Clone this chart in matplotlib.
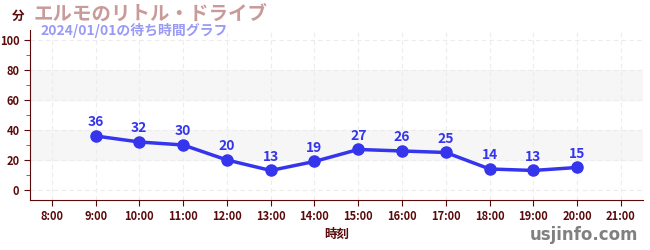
import matplotlib
matplotlib.use("Agg")
import matplotlib.pyplot as plt
from matplotlib.ticker import MultipleLocator

plt.rcParams['font.family'] = ['Noto Sans CJK JP', 'DejaVu Sans']

hours = [9, 10, 11, 12, 13, 14, 15, 16, 17, 18, 19, 20]
waits = [36, 32, 30, 20, 13, 19, 27, 26, 25, 14, 13, 15]
tick_hours = list(range(8, 22))
tick_labels = [f"{h}:00" for h in tick_hours]

dark = '#5a0a0a'
blue = '#3535ee'

fig = plt.figure(figsize=(6.5, 2.5), dpi=100)
ax = fig.add_axes([0.046, 0.2, 0.943, 0.68])

ax.set_xlim(7.5, 21.5)
ax.set_ylim(-6.7, 106.7)

# light bands
for lo, hi in [(20, 40), (60, 80)]:
    ax.axhspan(lo, hi, color='#f6f6f6', zorder=0)

ax.grid(True, color='#ececec', linestyle=(0, (4, 3)), linewidth=0.8, zorder=0)

ax.plot(hours, waits, color=blue, linewidth=2.5, marker='o', markersize=8, zorder=3)
for h, w in zip(hours, waits):
    ax.annotate(str(w), (h, w), xytext=(0, 5), textcoords='offset points',
                ha='center', va='bottom', color=blue, fontsize=10, fontweight='bold')

ax.set_xticks(tick_hours)
ax.set_xticklabels(tick_labels)
ax.set_yticks(range(0, 101, 20))
ax.yaxis.set_minor_locator(MultipleLocator(10))
ax.tick_params(axis='both', which='major', colors=dark, labelsize=8, length=4)
ax.tick_params(axis='y', which='minor', colors='#dd2222', length=3)
for lab in ax.get_xticklabels() + ax.get_yticklabels():
    lab.set_fontweight('bold')

for s in ['top', 'right']:
    ax.spines[s].set_visible(False)
for s in ['left', 'bottom']:
    ax.spines[s].set_color(dark)

ax.set_xlabel('時刻', color=dark, fontsize=9, fontweight='bold', labelpad=3)

fig.text(0.018, 0.935, '分', color=dark, fontsize=9, fontweight='bold', va='center')
fig.text(0.052, 0.945, 'エルモのリトル・ドライブ', color='#c99a9a', fontsize=14,
         fontweight='bold', va='center')
fig.text(0.062, 0.877, '2024/01/01の待ち時間グラフ', color='#9a9af5', fontsize=10,
         fontweight='bold', va='center')
fig.text(0.982, 0.06, 'usjinfo.com', color='#808080', fontsize=12,
         fontweight='bold', ha='right', va='center', family=['DejaVu Sans'])

fig.savefig('out.png', dpi=100)
